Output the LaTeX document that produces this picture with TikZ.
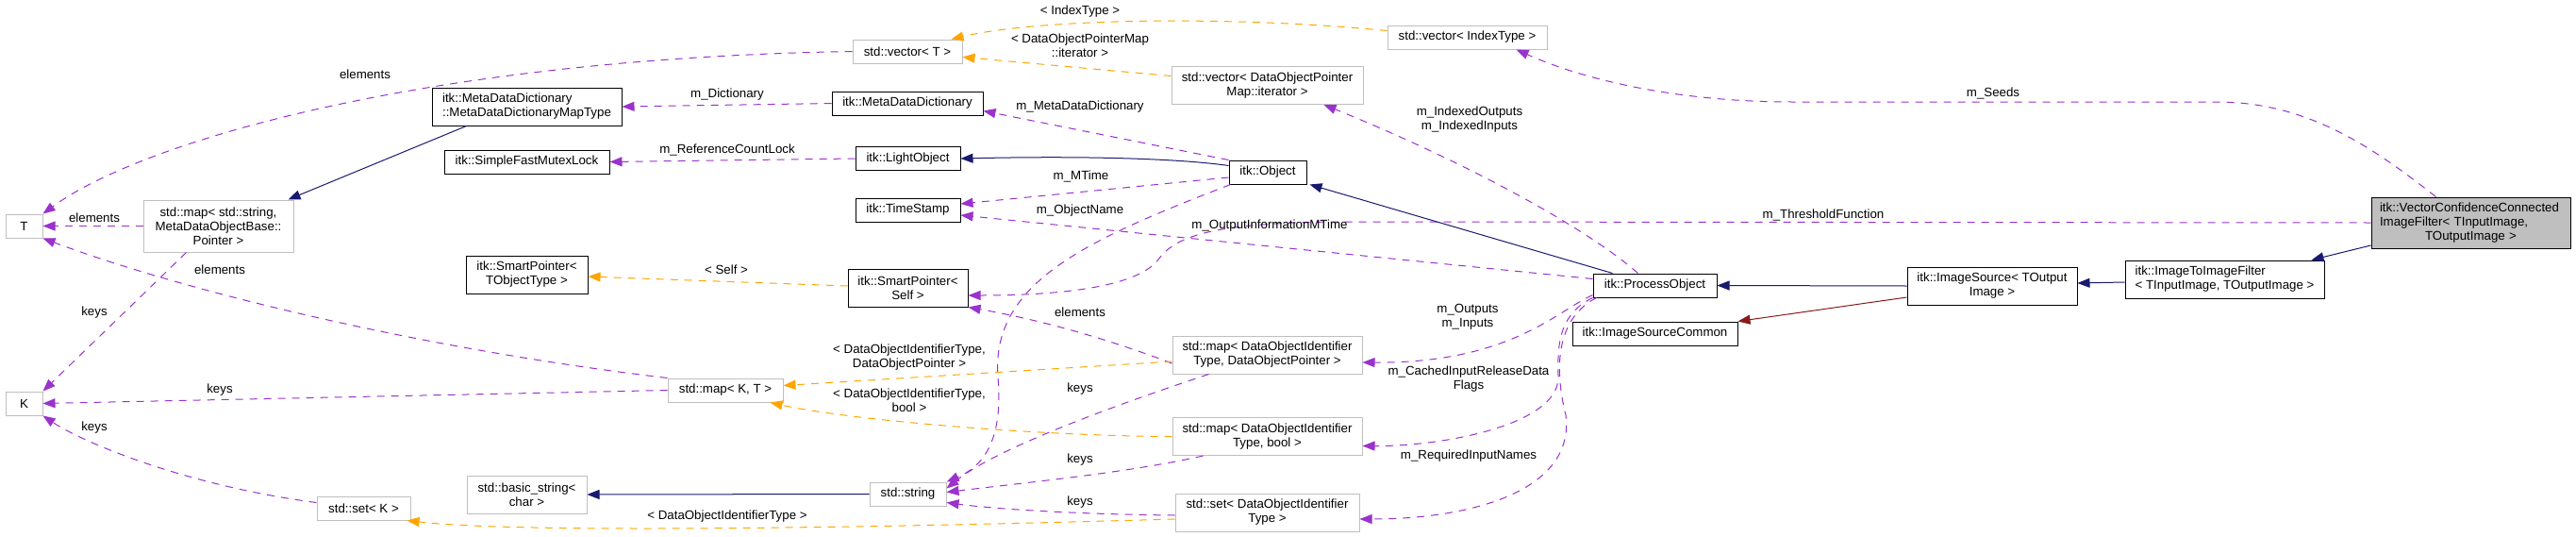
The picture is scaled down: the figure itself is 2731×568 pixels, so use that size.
\documentclass[tikz,border=0pt]{standalone}
\usepackage{fontspec}
\setmainfont{Liberation Sans}
\usepackage{tikz}
\usetikzlibrary{arrows.meta,calc}

\definecolor{usecol}{HTML}{9A32CD}
\definecolor{tplcol}{HTML}{FFA500}
\definecolor{pubcol}{HTML}{191970}
\definecolor{protcol}{HTML}{8B1A1A}
\definecolor{extcol}{HTML}{BFBFBF}

\tikzset{
  cls/.style={draw=black, line width=1pt, inner sep=2pt, align=center, minimum height=25pt},
  ext/.style={cls, draw=extcol},
  link/.style={line width=1pt, -{Triangle[length=13pt,width=10pt]}},
  usage/.style={link, draw=usecol, dash pattern=on 8pt off 7pt},
  tmpl/.style={link, draw=tplcol, dash pattern=on 8pt off 7pt},
  pubinh/.style={link, draw=pubcol},
  protinh/.style={link, draw=protcol},
  lbl/.style={inner sep=0pt, align=center}
}

\begin{document}
\begin{tikzpicture}[x=1pt, y=-1pt, every node/.style={font=\fontsize{13.3}{15}\selectfont}]
  \useasboundingbox[fill=white] (0,0) rectangle (2731,568);

  \node[ext, minimum width=39pt] (T) at (25.5,239.5) {T};
  \node[ext, minimum width=39pt] (K) at (25.5,427.5) {K};
  \node[ext, minimum width=159pt, minimum height=55pt] (mapstr) at (231.5,239.5) {std::map< std::string,\\MetaDataObjectBase::\\Pointer >};
  \node[cls, align=left, minimum width=201pt, minimum height=40pt] (mddmap) at (558.5,113) {itk::MetaDataDictionary\\::MetaDataDictionaryMapType};
  \node[cls, minimum width=175pt] (mutex) at (558.5,171.5) {itk::SimpleFastMutexLock};
  \node[cls, minimum width=129pt, minimum height=40pt] (sptobj) at (558.5,291) {itk::SmartPointer<\\TObjectType >};
  \node[ext, minimum width=99pt] (setk) at (385.5,538.5) {std::set< K >};
  \node[ext, minimum width=127pt, minimum height=40pt] (basicstr) at (558.5,524) {std::basic\_string<\\char >};
  \node[ext, minimum width=116pt] (vect) at (962,54.5) {std::vector< T >};
  \node[cls, minimum width=160pt] (mdd) at (962,109.5) {itk::MetaDataDictionary};
  \node[cls, minimum width=111pt] (light) at (962.5,168) {itk::LightObject};
  \node[cls, minimum width=111pt] (tstamp) at (962.5,222.5) {itk::TimeStamp};
  \node[cls, minimum width=127pt, minimum height=40pt] (sptself) at (962.5,305) {itk::SmartPointer<\\Self >};
  \node[ext, minimum width=122pt] (mapkt) at (769,413.5) {std::map< K, T >};
  \node[ext, minimum width=81pt] (string) at (962.5,523.5) {std::string};
  \node[ext, minimum width=169pt] (vecidx) at (1555.5,39.5) {std::vector< IndexType >};
  \node[ext, minimum width=203pt, minimum height=40pt] (vecit) at (1343.5,90.5) {std::vector< DataObjectPointer\\Map::iterator >};
  \node[cls, minimum width=82pt] (object) at (1344,182.5) {itk::Object};
  \node[ext, minimum width=201pt, minimum height=40pt] (mapdop) at (1343.5,376) {std::map< DataObjectIdentifier\\Type, DataObjectPointer >};
  \node[ext, minimum width=201pt, minimum height=40pt] (mapbool) at (1343.5,462.5) {std::map< DataObjectIdentifier\\Type, bool >};
  \node[ext, minimum width=195pt, minimum height=40pt] (setid) at (1343.5,543) {std::set< DataObjectIdentifier\\Type >};
  \node[cls, minimum width=131pt] (process) at (1754.5,302.5) {itk::ProcessObject};
  \node[cls, minimum width=175pt] (common) at (1754.5,353.5) {itk::ImageSourceCommon};
  \node[cls, minimum width=180pt, minimum height=40pt] (imgsrc) at (2112,303) {itk::ImageSource< TOutput\\Image >};
  \node[cls, align=left, minimum width=211pt, minimum height=40pt] (i2i) at (2358.5,296) {itk::ImageToImageFilter\\< TInputImage, TOutputImage >};
  \node[cls, fill=extcol, align=left, text width=193pt, minimum width=211pt, minimum height=54pt] (vcc) at (2619.5,236) {itk::VectorConfidenceConnected\\ImageFilter< TInputImage,\\\makebox[\linewidth]{TOutputImage >}};

  \draw[usage] (vect.west) .. controls (450,62) and (150,150) .. (T.north east);
  \draw[usage] (mapstr.west) -- (T.east);
  \draw[usage] (mapkt.north west) .. controls (450,370) and (200,310) .. (T.south east);
  \draw[usage] ([xshift=-34pt]mapstr.south) -- (K.north east);
  \draw[usage] (mapkt.west) -- (K.east);
  \draw[usage] ([yshift=6pt]setk.west) .. controls (200,515) and (90,470) .. (K.south east);
  \draw[pubinh] ([xshift=-64pt]mddmap.south) -- ([xshift=74pt]mapstr.north);
  \draw[usage] (mdd.west) -- (mddmap.east);
  \draw[usage] (light.west) -- (mutex.east);
  \draw[tmpl] ([yshift=2pt]sptself.west) -- ([yshift=-2pt]sptobj.east);
  \draw[pubinh] (string.west) -- (basicstr.east);
  \draw[tmpl] ([yshift=-7pt]setid.west) .. controls (900,560) and (550,565) .. ([xshift=-4pt]setk.south east);
  \draw[tmpl] ([yshift=7pt]vecidx.west) .. controls (1300,16) and (1100,20) .. ([xshift=-12pt]vect.north east);
  \draw[tmpl] ([yshift=10pt]vecit.west) -- ([yshift=-6pt]vect.east);
  \draw[usage] (object.north west) -- ([yshift=-8pt]mdd.east);
  \draw[pubinh] ([yshift=7pt]object.west) .. controls (1250,168) and (1150,165) .. (light.east);
  \draw[usage] ([yshift=-5.5pt]object.west) -- ([yshift=6.5pt]tstamp.east);
  \draw[usage] ([xshift=2pt]object.south west) .. controls (1150,255) and (1050,300) .. (1058,400)
    .. controls (1064,470) and (1040,495) .. (string.north east);
  \draw[usage] ([yshift=7pt]process.west) -- ([yshift=-5.5pt]tstamp.east);
  \draw[usage] (vcc.west) -- (1430,235) .. controls (1280,235) and (1245,252) .. (1228,275)
    .. controls (1205,305) and (1120,313) .. ([yshift=-8pt]sptself.east);
  \draw[usage] ([yshift=-9pt]mapdop.west) .. controls (1150,350) and (1080,335) .. (sptself.south east);
  \draw[tmpl] ([yshift=-7pt]mapdop.west) -- ([yshift=5pt]mapkt.east);
  \draw[tmpl] (mapbool.west) .. controls (1100,462) and (900,445) .. ([xshift=-14pt]mapkt.south east);
  \draw[usage] ([xshift=-62pt]mapdop.south) .. controls (1150,440) and (1050,480) .. ([yshift=6pt]string.east);
  \draw[usage] ([xshift=-68pt]mapbool.south) .. controls (1200,500) and (1100,510) .. ([yshift=2pt]string.east);
  \draw[usage] ([yshift=-3pt]setid.west) .. controls (1150,545) and (1060,540) .. ([yshift=-9pt]string.east);
  \draw[usage] ([xshift=-18pt]process.north) .. controls (1680,240) and (1550,170) .. ([xshift=60pt]vecit.south);
  \draw[pubinh] ([xshift=-45pt]process.north) -- ([xshift=3pt]object.south east);
  \draw[usage] ([yshift=-10pt]process.west) .. controls (1650,330) and (1600,385) .. ([yshift=-8pt]mapdop.east);
  \draw[usage] (process.south west) .. controls (1648,335) and (1652,375) .. (1652,400)
    .. controls (1652,450) and (1530,473) .. ([yshift=-10pt]mapbool.east);
  \draw[usage] ([xshift=4pt]process.south west) .. controls (1645,340) and (1650,400) .. (1660,440)
    .. controls (1670,520) and (1560,550) .. ([yshift=-7pt]setid.east);
  \draw[pubinh] (imgsrc.west) -- (process.east);
  \draw[protinh] ([yshift=-12pt]imgsrc.west) -- (common.north east);
  \draw[pubinh] ([yshift=-3pt]i2i.west) -- ([yshift=3pt]imgsrc.east);
  \draw[pubinh] ([yshift=-24pt]vcc.west) -- ([xshift=-14pt]i2i.north east);
  \draw[usage] ([xshift=-37pt]vcc.north) .. controls (2520,160) and (2450,108) .. (2350,108) -- (1900,108)
    .. controls (1780,108) and (1680,85) .. ([xshift=52pt]vecidx.south);

  \node[lbl] (lelemA) at (387,79) {elements};
  \node[lbl] (lelemB) at (100,231) {elements};
  \node[lbl] (lelemC) at (233,286) {elements};
  \node[lbl] (lkeysA) at (100,331) {keys};
  \node[lbl] (lkeysB) at (233,413) {keys};
  \node[lbl] (lkeysC) at (100,453) {keys};
  \node[lbl] (ldict) at (771,100) {m\_Dictionary};
  \node[lbl] (llock) at (771,159) {m\_ReferenceCountLock};
  \node[lbl] (lself) at (770,286) {< Self >};
  \node[lbl] (lsetid) at (771,547) {< DataObjectIdentifierType >};
  \node[lbl] (lidx) at (1145,12) {< IndexType >};
  \node[lbl] (lit) at (1145,48.5) {< DataObjectPointerMap\\::iterator >};
  \node[lbl] (lmdd) at (1145,113) {m\_MetaDataDictionary};
  \node[lbl] (lmtime) at (1146,187) {m\_MTime};
  \node[lbl] (lname) at (1145,223) {m\_ObjectName};
  \node[lbl] (loutmt) at (1346,239) {m\_OutputInformationMTime};
  \node[lbl] (lelemD) at (1145,331) {elements};
  \node[lbl] (ldop) at (964,379) {< DataObjectIdentifierType,\\DataObjectPointer >};
  \node[lbl] (lbool) at (964,424.5) {< DataObjectIdentifierType,\\bool >};
  \node[lbl] (lkeysD) at (1145,412) {keys};
  \node[lbl] (lkeysE) at (1145,487) {keys};
  \node[lbl] (lkeysF) at (1145,532) {keys};
  \node[lbl] (lindexed) at (1558,127) {m\_IndexedOutputs\\m\_IndexedInputs};
  \node[lbl] (lio) at (1556,335.5) {m\_Outputs\\m\_Inputs};
  \node[lbl] (lcached) at (1557,401.5) {m\_CachedInputReleaseData\\Flags};
  \node[lbl] (lreq) at (1557,483) {m\_RequiredInputNames};
  \node[lbl] (lseeds) at (2113,99) {m\_Seeds};
  \node[lbl] (lthresh) at (1933,228) {m\_ThresholdFunction};
\end{tikzpicture}
\end{document}
